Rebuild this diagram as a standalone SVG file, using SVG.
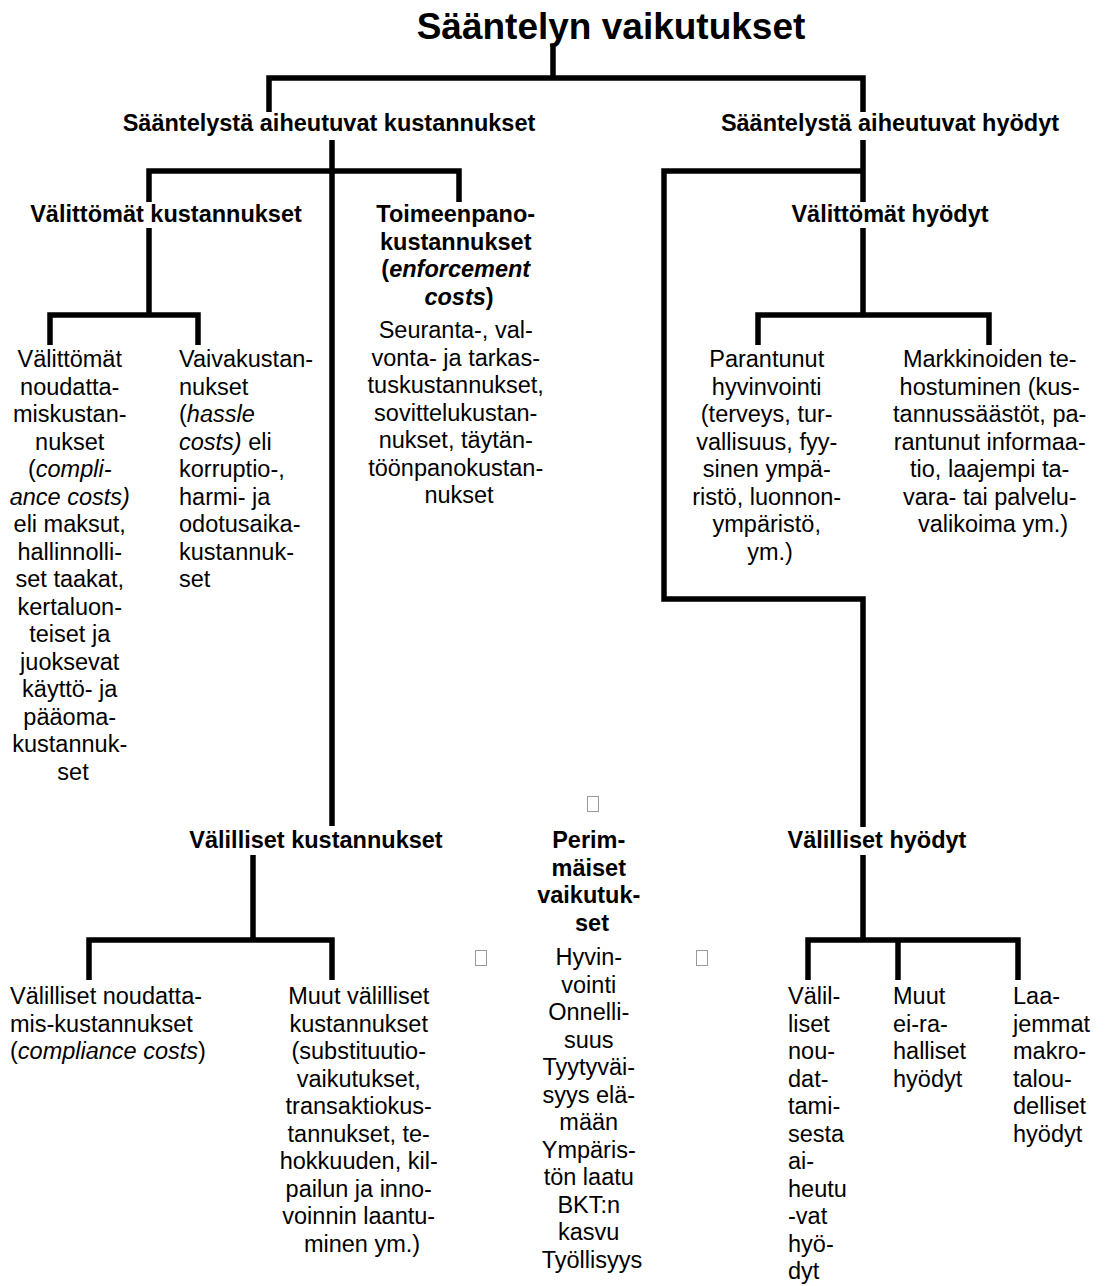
<svg xmlns="http://www.w3.org/2000/svg" width="1106" height="1286" viewBox="0 0 1106 1286">
<style>
.t{font-family:"Liberation Sans",Arial,sans-serif;font-size:23.5px;fill:#000}
.b{font-weight:bold}
.c{text-anchor:middle}
.i{font-style:italic}
.ttl{font-family:"Liberation Sans",Arial,sans-serif;font-size:37px;font-weight:bold;text-anchor:middle;fill:#000}
.ln{fill:none;stroke:#000;stroke-width:5.5;stroke-linejoin:miter;stroke-linecap:butt}
.tofu{fill:#fff;stroke:#999;stroke-width:1}
</style>
<rect width="1106" height="1286" fill="#fff"/>
<g id="connectors">
<path class="ln" d="M553,44 V78"/>
<path class="ln" d="M269,112 V78 H863 V112"/>
<path class="ln" d="M332,140 V826"/>
<path class="ln" d="M149,202 V171 H459 V202"/>
<path class="ln" d="M149,228 V315"/>
<path class="ln" d="M50,345 V315 H198 V345"/>
<path class="ln" d="M863,140 V202"/>
<path class="ln" d="M863,171 H664 V599 H863 V827"/>
<path class="ln" d="M863,228 V315"/>
<path class="ln" d="M758,345 V315 H989 V345"/>
<path class="ln" d="M253,855 V940"/>
<path class="ln" d="M89,980 V940 H332 V980"/>
<path class="ln" d="M863,855 V940"/>
<path class="ln" d="M808,980 V940 H1018 V980"/>
<path class="ln" d="M898,940 V980"/>
</g>
<g id="title"><text class="ttl" x="611" y="39">Sääntelyn vaikutukset</text></g>
<g id="kustannukset"><text class="t b c" x="329" y="131">Sääntelystä aiheutuvat kustannukset</text></g>
<g id="hyodyt"><text class="t b c" x="890" y="131">Sääntelystä aiheutuvat hyödyt</text></g>
<g id="valittomat-kustannukset"><text class="t b c" x="166" y="222">Välittömät kustannukset</text></g>
<g id="toimeenpano">
<text class="t b c">
<tspan x="459" y="222">Toimeenpano-</tspan>
<tspan x="459" y="249.5">kustannukset</tspan>
<tspan x="459" y="277">(<tspan class="i">enforcement</tspan></tspan>
<tspan x="459" y="304.5"><tspan class="i">costs</tspan>)</tspan>
</text>
<text class="t c">
<tspan x="459" y="338">Seuranta-, val-</tspan>
<tspan x="459" y="365.5">vonta- ja tarkas-</tspan>
<tspan x="459" y="393">tuskustannukset,</tspan>
<tspan x="459" y="420.5">sovittelukustan-</tspan>
<tspan x="459" y="448">nukset, täytän-</tspan>
<tspan x="459" y="475.5">töönpanokustan-</tspan>
<tspan x="459" y="503">nukset</tspan>
</text>
</g>
<g id="valittomat-hyodyt"><text class="t b c" x="890" y="222">Välittömät hyödyt</text></g>
<g id="valittomat-noudattamis">
<text class="t c">
<tspan x="73" y="367">Välittömät</tspan>
<tspan x="73" y="394.5">noudatta-</tspan>
<tspan x="73" y="422">miskustan-</tspan>
<tspan x="73" y="449.5">nukset</tspan>
<tspan x="73" y="477">(<tspan class="i">compli-</tspan></tspan>
<tspan x="73" y="504.5" class="i">ance costs)</tspan>
<tspan x="73" y="532">eli maksut,</tspan>
<tspan x="73" y="559.5">hallinnolli-</tspan>
<tspan x="73" y="587">set taakat,</tspan>
<tspan x="73" y="614.5">kertaluon-</tspan>
<tspan x="73" y="642">teiset ja</tspan>
<tspan x="73" y="669.5">juoksevat</tspan>
<tspan x="73" y="697">käyttö- ja</tspan>
<tspan x="73" y="724.5">pääoma-</tspan>
<tspan x="73" y="752">kustannuk-</tspan>
<tspan x="73" y="779.5">set</tspan>
</text>
</g>
<g id="vaivakustannukset">
<text class="t">
<tspan x="179" y="367">Vaivakustan-</tspan>
<tspan x="179" y="394.5">nukset</tspan>
<tspan x="179" y="422">(<tspan class="i">hassle</tspan></tspan>
<tspan x="179" y="449.5"><tspan class="i">costs)</tspan> eli</tspan>
<tspan x="179" y="477">korruptio-,</tspan>
<tspan x="179" y="504.5">harmi- ja</tspan>
<tspan x="179" y="532">odotusaika-</tspan>
<tspan x="179" y="559.5">kustannuk-</tspan>
<tspan x="179" y="587">set</tspan>
</text>
</g>
<g id="parantunut">
<text class="t c">
<tspan x="770" y="367">Parantunut</tspan>
<tspan x="770" y="394.5">hyvinvointi</tspan>
<tspan x="770" y="422">(terveys, tur-</tspan>
<tspan x="770" y="449.5">vallisuus, fyy-</tspan>
<tspan x="770" y="477">sinen ympä-</tspan>
<tspan x="770" y="504.5">ristö, luonnon-</tspan>
<tspan x="770" y="532">ympäristö,</tspan>
<tspan x="770" y="559.5">ym.)</tspan>
</text>
</g>
<g id="markkinoiden">
<text class="t c">
<tspan x="993" y="367">Markkinoiden te-</tspan>
<tspan x="993" y="394.5">hostuminen (kus-</tspan>
<tspan x="993" y="422">tannussäästöt, pa-</tspan>
<tspan x="993" y="449.5">rantunut informaa-</tspan>
<tspan x="993" y="477">tio, laajempi ta-</tspan>
<tspan x="993" y="504.5">vara- tai palvelu-</tspan>
<tspan x="993" y="532">valikoima ym.)</tspan>
</text>
</g>
<g id="valilliset-kustannukset"><text class="t b c" x="316" y="848">Välilliset kustannukset</text></g>
<g id="valilliset-hyodyt"><text class="t b c" x="877" y="848">Välilliset hyödyt</text></g>
<g id="perimaiset">
<rect class="tofu" x="587.5" y="796.5" width="11" height="15"/>
<text class="t b c">
<tspan x="592" y="848">Perim-</tspan>
<tspan x="592" y="875.5">mäiset</tspan>
<tspan x="592" y="903">vaikutuk-</tspan>
<tspan x="592" y="930.5">set</tspan>
</text>
<text class="t c">
<tspan x="592" y="965">Hyvin-</tspan>
<tspan x="592" y="992.5">vointi</tspan>
<tspan x="592" y="1020">Onnelli-</tspan>
<tspan x="592" y="1047.5">suus</tspan>
<tspan x="592" y="1075">Tyytyväi-</tspan>
<tspan x="592" y="1102.5">syys elä-</tspan>
<tspan x="592" y="1130">mään</tspan>
<tspan x="592" y="1157.5">Ympäris-</tspan>
<tspan x="592" y="1185">tön laatu</tspan>
<tspan x="592" y="1212.5">BKT:n</tspan>
<tspan x="592" y="1240">kasvu</tspan>
<tspan x="592" y="1267.5">Työllisyys</tspan>
</text>
</g>
<g id="marks">
<rect class="tofu" x="475.5" y="950.5" width="11" height="15"/>
<rect class="tofu" x="696.5" y="950.5" width="11" height="15"/>
</g>
<g id="valilliset-noudattamis">
<text class="t">
<tspan x="10" y="1004">Välilliset noudatta-</tspan>
<tspan x="10" y="1031.5">mis-kustannukset</tspan>
<tspan x="10" y="1059">(<tspan class="i">compliance costs</tspan>)</tspan>
</text>
</g>
<g id="muut-valilliset">
<text class="t c">
<tspan x="362" y="1004">Muut välilliset</tspan>
<tspan x="362" y="1031.5">kustannukset</tspan>
<tspan x="362" y="1059">(substituutio-</tspan>
<tspan x="362" y="1086.5">vaikutukset,</tspan>
<tspan x="362" y="1114">transaktiokus-</tspan>
<tspan x="362" y="1141.5">tannukset, te-</tspan>
<tspan x="362" y="1169">hokkuuden, kil-</tspan>
<tspan x="362" y="1196.5">pailun ja inno-</tspan>
<tspan x="362" y="1224">voinnin laantu-</tspan>
<tspan x="362" y="1251.5">minen ym.)</tspan>
</text>
</g>
<g id="valilliset-noudattamisesta">
<text class="t">
<tspan x="788" y="1004">Välil-</tspan>
<tspan x="788" y="1031.5">liset</tspan>
<tspan x="788" y="1059">nou-</tspan>
<tspan x="788" y="1086.5">dat-</tspan>
<tspan x="788" y="1114">tami-</tspan>
<tspan x="788" y="1141.5">sesta</tspan>
<tspan x="788" y="1169">ai-</tspan>
<tspan x="788" y="1196.5">heutu</tspan>
<tspan x="788" y="1224">-vat</tspan>
<tspan x="788" y="1251.5">hyö-</tspan>
<tspan x="788" y="1279">dyt</tspan>
</text>
</g>
<g id="muut-ei-rahalliset">
<text class="t">
<tspan x="893" y="1004">Muut</tspan>
<tspan x="893" y="1031.5">ei-ra-</tspan>
<tspan x="893" y="1059">halliset</tspan>
<tspan x="893" y="1086.5">hyödyt</tspan>
</text>
</g>
<g id="laajemmat">
<text class="t">
<tspan x="1013" y="1004">Laa-</tspan>
<tspan x="1013" y="1031.5">jemmat</tspan>
<tspan x="1013" y="1059">makro-</tspan>
<tspan x="1013" y="1086.5">talou-</tspan>
<tspan x="1013" y="1114">delliset</tspan>
<tspan x="1013" y="1141.5">hyödyt</tspan>
</text>
</g>
</svg>
